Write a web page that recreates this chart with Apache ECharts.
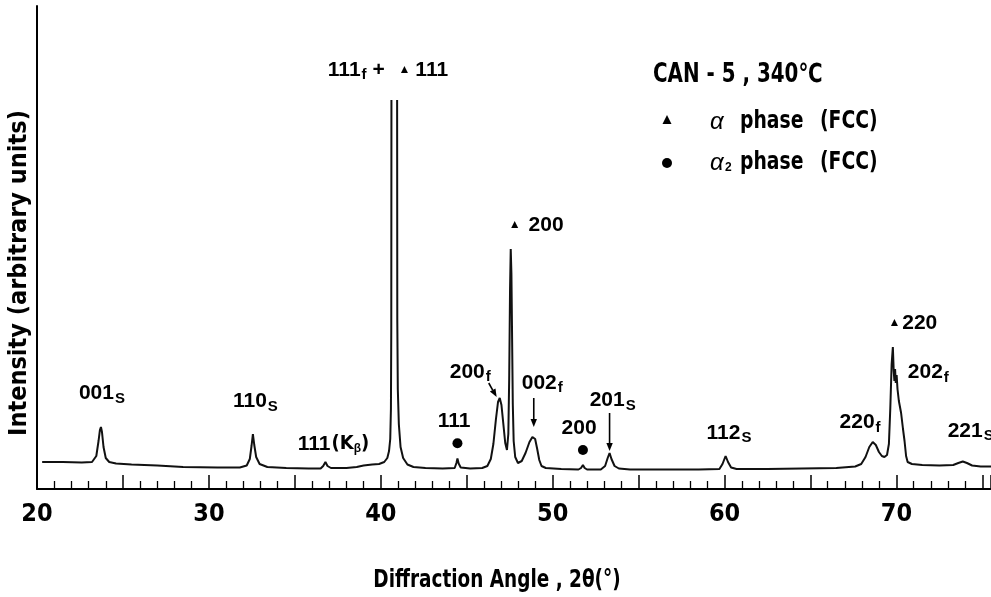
<!DOCTYPE html>
<html><head><meta charset="utf-8">
<script src="https://cdn.jsdelivr.net/npm/echarts@6.0.0/dist/echarts.min.js"></script>
<style>html,body{margin:0;padding:0;background:#fff}#c{width:991px;height:597px}</style>
</head><body><div id="c"></div>
<script>
// ---- data ----
const angle = [20.3,21.5,22.6,23.2,23.45,23.58,23.66,23.72,23.78,23.87,24.0,24.2,24.6,25.5,27.0,28.5,30.5,31.8,32.2,32.38,32.48,32.56,32.64,32.75,32.95,33.4,34.5,35.8,36.5,36.65,36.78,36.9,37.1,38.0,38.6,39.0,39.5,39.9,40.2,40.38,40.48,40.55,40.59,40.61,40.62,40.78,40.95,40.96,40.99,41.05,41.15,41.3,41.55,41.9,42.6,43.6,44.3,44.4,44.46,44.53,44.65,45.2,45.9,46.2,46.4,46.55,46.7,46.82,46.92,47.02,47.13,47.24,47.34,47.42,47.47,47.52,47.56,47.6,47.64,47.68,47.73,47.82,47.98,48.2,48.42,48.65,48.82,48.9,48.98,49.1,49.22,49.35,49.6,50.5,51.5,51.65,51.76,51.86,52.0,52.8,53.05,53.2,53.31,53.42,53.6,53.85,54.5,56.5,58.5,59.7,59.88,60.06,60.2,60.38,60.7,62.5,64.5,66.5,67.6,67.95,68.2,68.42,68.62,68.8,68.98,69.15,69.3,69.45,69.56,69.64,69.72,69.79,69.84,69.88,69.92,69.96,70.01,70.06,70.14,70.27,70.38,70.47,70.56,70.65,70.9,71.5,72.5,73.3,73.6,73.86,74.1,74.4,74.9,75.5];
const intensity = [27,27,26.5,27,33,48,59,62,57,42,31,27,25.5,24.5,23.5,22,21.5,21.5,23.5,30,43,55,44,32,25,22,21,20.5,20.5,23,27,23,21,21,22,23.5,24.5,25,27,31,38,50,80,160,389,null,389,170,100,65,42,31,24.5,22,21,20.5,21,26,30.5,25.5,21.5,20.5,21,23,30,45,70,87,91,84,65,46,39,55,110,200,240,215,150,85,48,32,26,28,36,47,52,52.5,50,40,29,23,21,20,19.5,21,24,21,19.5,19.5,23,31,36,30,23,20.5,19.5,19.5,19.5,20,25,33,27,21.5,20,20,20.5,21,22.5,25,32,42,47,44,37,33,32,34,45,80,125,142,118,108,120,106,114,100,88,76,60,48,33,27,25,24,23.5,24,26,27.5,26,23.5,22.5,22.5];
const tickLabels = ['20','30','40','50','60','70'];
const alpha2Angle = [44.46, 51.76];
const alpha2Height = [45.7, 39];
const xTitle = 'Diffraction Angle , 2θ(°)';
const yTitle = 'Intensity (arbitrary units)';
const sampleTitle = 'CAN - 5 , 340℃';
const legendText = ['phase', '(FCC)'];

// ---- styling ----
const NARROW = '"Liberation Sans Narrow","DejaVu Sans Condensed","Arial Narrow",sans-serif';
const SANS = '"Liberation Sans",Arial,"DejaVu Sans",sans-serif';
const FONTS = {
  m: {font: 'bold 21px ' + SANS, dy: 0},
  s: {font: 'bold 15px ' + SANS, dy: 5},
  n: {font: 'bold 20px ' + NARROW, dy: 0},
  ns: {font: 'bold 12px ' + SANS, dy: 5},
  t: {font: '12px ' + SANS, dy: 0}
};

// annotation layout (anchor = left edge / vertical centre, in data units)
const peakLabels = [
  {at:[22.44, 95.3], parts:[['001','m',1],['S','s']]},
  {at:[31.40, 87.5], parts:[['110','m',1],['S','s']]},
  {at:[35.17, 45], parts:[['111','m',1],['(K','n'],['β','ns'],[')','n']]},
  {at:[43.31, 68], parts:[['111','m']]},
  {at:[44.01, 117], parts:[['200','m',1],['f','s']]},
  {at:[47.44, 264], parts:[['▲','t',8],['200','m']]},
  {at:[48.20, 106], parts:[['002','m',1],['f','s']]},
  {at:[50.52, 61], parts:[['200','m']]},
  {at:[52.15, 88.5], parts:[['201','m',1],['S','s']]},
  {at:[58.95, 56], parts:[['112','m',1],['S','s']]},
  {at:[66.69, 66.5], parts:[['220','m',1],['f','s']]},
  {at:[69.53, 166], parts:[['▲','t',2],['220','m']]},
  {at:[70.66, 116.5], parts:[['202','m',1],['f','s']]},
  {at:[72.98, 58], parts:[['221','m',1],['S','s']]},
  {at:[36.92, 419], parts:[['111','m',1],['f','s'],[' + ','m',8],['▲','t',5],['111','m']]}
];
const arrows = [
  {from:[46.28,106], to:[46.74,92]},
  {from:[48.90,91], to:[48.90,62]},
  {from:[53.31,76], to:[53.31,38]}
];

const chart = echarts.init(document.getElementById('c'), null, {renderer:'canvas'});
const seriesData = angle.map((a,i)=>[a, intensity[i]]);

chart.setOption({
  animation: false,
  backgroundColor: '#fff',
  grid: {left: 37, right: 0, top: 6, bottom: 108, containLabel: false},
  xAxis: {
    type: 'value', min: 20, max: 75.5, interval: 5,
    axisLine: {lineStyle: {color: '#000', width: 2}},
    axisTick: {inside: true, length: 14, lineStyle: {color: '#000', width: 1.5}},
    minorTick: {show: true, splitNumber: 5, length: 8, lineStyle: {color: '#000', width: 1.3}},
    axisLabel: {
      formatter: v => tickLabels.includes(String(v)) ? String(v) : '',
      fontFamily: NARROW, fontWeight: 'bold', fontSize: 25, color: '#000', margin: 13,
      showMaxLabel: false
    },
    splitLine: {show: false}
  },
  yAxis: {
    type: 'value', min: 0, max: 483,
    axisLine: {show: true, lineStyle: {color: '#000', width: 2}},
    axisTick: {show: false}, axisLabel: {show: false}, splitLine: {show: false}
  },
  series: [
    {type: 'line', data: seriesData, showSymbol: false, connectNulls: false, smooth: false,
     lineStyle: {color: '#111', width: 2}, z: 3},
    {type: 'scatter', data: alpha2Angle.map((a,i)=>[a, alpha2Height[i]]), symbol: 'circle', symbolSize: 10,
     itemStyle: {color: '#000', opacity: 1}, z: 4}
  ]
});

const mctx = document.createElement('canvas').getContext('2d');
function tw(t, f){ mctx.font = f; return mctx.measureText(t).width; }
function layout(x0, y, parts){
  const els = []; let x = x0;
  parts.forEach(([t,k,g]) => {
    const f = FONTS[k];
    els.push({type:'text', x: x, y: y + f.dy, z: 10,
      style:{text: t, font: f.font, fill: '#000', align: 'left', verticalAlign: 'middle'}});
    x += tw(t, f.font) + (g || 0);
  });
  return els;
}
const px = p => chart.convertToPixel({gridIndex: 0}, p);

const g = [];
peakLabels.forEach(l => { const p = px(l.at); g.push(...layout(p[0], p[1], l.parts)); });
arrows.forEach(a => {
  const p0 = px(a.from), p1 = px(a.to);
  const dx = p1[0]-p0[0], dy = p1[1]-p0[1], L = Math.hypot(dx,dy), ux = dx/L, uy = dy/L;
  const hl = 8, hw = 3.2;
  const bx = p1[0]-ux*hl, by = p1[1]-uy*hl;
  g.push({type:'line', z: 10, shape:{x1:p0[0], y1:p0[1], x2:bx, y2:by}, style:{stroke:'#000', lineWidth:1.6}});
  g.push({type:'polygon', z: 10, shape:{points:[[p1[0],p1[1]],[bx-uy*hw,by+ux*hw],[bx+uy*hw,by-ux*hw]]}, style:{fill:'#000'}});
});
// legend block
g.push({type:'text', x:653, y:75, z:10, scaleX:0.85, style:{text: sampleTitle, font:'bold 26px '+NARROW, fill:'#000', align:'left', verticalAlign:'middle'}});
g.push({type:'polygon', z:10, shape:{points:[[667,115],[662.5,124],[671.5,124]]}, style:{fill:'#000'}});
g.push({type:'circle', z:10, shape:{cx:667, cy:163, r:5}, style:{fill:'#000'}});
[[122, false],[163, true]].forEach(([y, sub]) => {
  g.push({type:'text', x:710, y:y, z:10, style:{text:'α', font:'italic 24px '+SANS, fill:'#000', align:'left', verticalAlign:'middle'}});
  if (sub) g.push({type:'text', x:725, y:y+5, z:10, style:{text:'2', font:'bold 12px '+SANS, fill:'#000', align:'left', verticalAlign:'middle'}});
  g.push({type:'text', x:740, y:y, z:10, scaleX:0.87, style:{text:legendText[0], font:'bold 24px '+NARROW, fill:'#000', align:'left', verticalAlign:'middle'}});
  g.push({type:'text', x:820, y:y, z:10, scaleX:0.87, style:{text:legendText[1], font:'bold 24px '+NARROW, fill:'#000', align:'left', verticalAlign:'middle'}});
});
// axis titles
g.push({type:'text', x:497, y:580, z:10, scaleX:0.82, style:{text:xTitle, font:'bold 25px '+NARROW, fill:'#000', align:'center', verticalAlign:'middle'}});
g.push({type:'text', x:19, y:273, rotation: Math.PI/2, z:10, style:{text:yTitle, font:'bold 25px '+NARROW, fill:'#000', align:'center', verticalAlign:'middle'}});

chart.setOption({graphic: g});
</script>
</body></html>
